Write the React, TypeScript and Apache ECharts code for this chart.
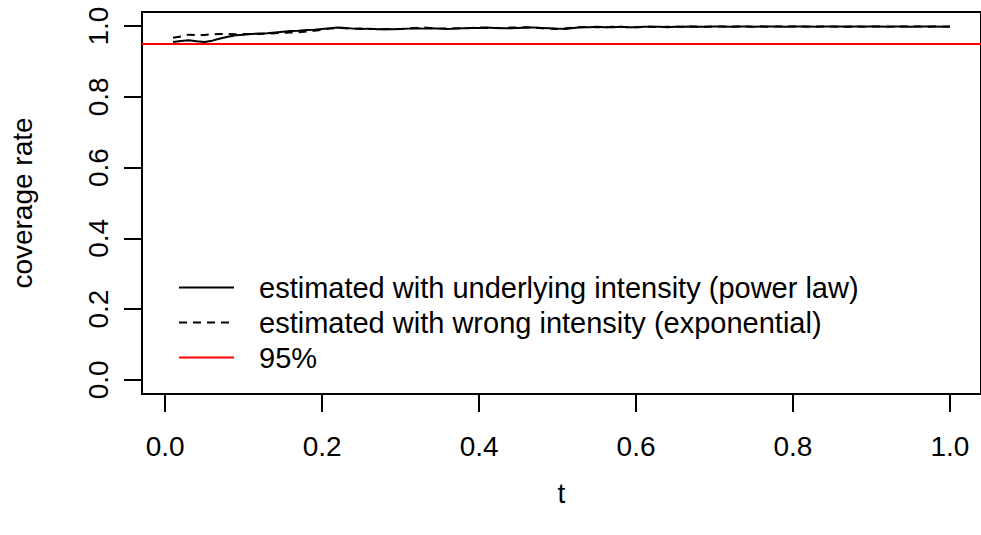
import React, { useEffect, useRef } from "react";
import * as echarts from "echarts";

const tValues: number[] = Array.from({ length: 100 }, (_, i) => +((i + 1) / 100).toFixed(2));

const powerLaw: number[] = [
  0.955, 0.958, 0.960, 0.957, 0.955, 0.959, 0.965, 0.970, 0.974, 0.976,
  0.978, 0.979, 0.980, 0.982, 0.984, 0.986, 0.987, 0.989, 0.990, 0.992,
  0.994, 0.996, 0.995, 0.993, 0.992, 0.993, 0.991, 0.992, 0.991, 0.992,
  0.993, 0.994, 0.993, 0.994, 0.993, 0.992, 0.993, 0.994, 0.995, 0.995,
  0.996, 0.995, 0.994, 0.994, 0.995, 0.996, 0.996, 0.995, 0.994, 0.993,
  0.992, 0.995, 0.997, 0.997, 0.998, 0.997, 0.997, 0.998, 0.997, 0.997,
  0.998, 0.998, 0.998, 0.997, 0.998, 0.998, 0.999, 0.998, 0.998, 0.999,
  0.999, 0.998, 0.999, 0.999, 0.998, 0.999, 0.999, 0.999, 0.998, 0.999,
  0.999, 0.999, 0.998, 0.999, 0.999, 0.999, 0.998, 0.999, 0.999, 0.999,
  0.999, 0.998, 0.999, 0.999, 0.998, 0.999, 0.999, 0.999, 0.998, 0.998,
];

const exponential: number[] = [
  0.967, 0.971, 0.976, 0.975, 0.975, 0.977, 0.978, 0.978, 0.977, 0.978,
  0.978, 0.978, 0.979, 0.980, 0.981, 0.982, 0.983, 0.985, 0.987, 0.990,
  0.993, 0.995, 0.994, 0.993, 0.993, 0.992, 0.992, 0.991, 0.992, 0.992,
  0.994, 0.995, 0.996, 0.994, 0.993, 0.993, 0.994, 0.994, 0.995, 0.996,
  0.995, 0.995, 0.995, 0.996, 0.996, 0.997, 0.996, 0.994, 0.993, 0.992,
  0.994, 0.996, 0.997, 0.998, 0.997, 0.997, 0.998, 0.998, 0.997, 0.997,
  0.998, 0.998, 0.997, 0.998, 0.998, 0.998, 0.999, 0.998, 0.998, 0.999,
  0.999, 0.998, 0.999, 0.999, 0.998, 0.999, 0.998, 0.999, 0.999, 0.999,
  0.999, 0.998, 0.999, 0.999, 0.999, 0.998, 0.999, 0.999, 0.998, 0.999,
  0.999, 0.999, 0.998, 0.999, 0.999, 0.999, 0.998, 0.999, 0.999, 0.999,
];

const referenceLevel = 0.95;
const xTicks: number[] = [0, 0.2, 0.4, 0.6, 0.8, 1.0];
const yTicks: number[] = [0, 0.2, 0.4, 0.6, 0.8, 1.0];
const seriesNames: string[] = [
  "estimated with underlying intensity (power law)",
  "estimated with wrong intensity (exponential)",
  "95%",
];

const FONT = "'Liberation Sans', Arial, Helvetica, sans-serif";

export default function App() {
  const ref = useRef<HTMLDivElement>(null);
  useEffect(() => {
    document.body.style.margin = "0";
    if (!ref.current) return;
    const chart = echarts.init(ref.current, null, { renderer: "svg" });
    // R pads the data range [0.01, 1] by 4% on each side
    const xRange = 1.0 - 0.01;
    const xLo = 0.01 - 0.04 * xRange;
    const xHi = 1.0 + 0.04 * xRange;
    chart.setOption({
      animation: false,
      backgroundColor: "#ffffff",
      textStyle: { fontFamily: FONT },
      grid: {
        left: 142,
        top: 12,
        width: 840,
        height: 382,
        show: true,
        borderColor: "#000",
        borderWidth: 2,
        backgroundColor: "transparent",
      },
      legend: {
        orient: "vertical",
        left: 173,
        top: 268,
        itemWidth: 55,
        itemHeight: 14,
        itemGap: 6,
        data: seriesNames,
        itemStyle: { opacity: 0 },
        textStyle: {
          fontSize: 29,
          lineHeight: 29,
          color: "#000",
          fontFamily: FONT,
          padding: [0, 0, 0, 20],
        },
        selectedMode: false,
      },
      xAxis: {
        type: "value",
        min: xLo,
        max: xHi,
        name: "t",
        nameLocation: "middle",
        nameGap: 85,
        nameTextStyle: { fontSize: 28, color: "#000", fontFamily: FONT },
        axisLine: { show: false, onZero: false },
        splitLine: { show: false },
        axisTick: {
          show: true,
          inside: false,
          customValues: xTicks,
          length: 18,
          lineStyle: { color: "#000", width: 2 },
        },
        axisLabel: {
          customValues: xTicks,
          formatter: (v: number) => v.toFixed(1),
          fontSize: 28,
          color: "#000",
          margin: 38,
          fontFamily: FONT,
        },
      },
      yAxis: {
        type: "value",
        min: -0.04,
        max: 1.04,
        name: "coverage rate",
        nameLocation: "middle",
        nameGap: 106,
        nameTextStyle: { fontSize: 28, color: "#000", fontFamily: FONT },
        axisLine: { show: false, onZero: false },
        splitLine: { show: false },
        axisTick: {
          show: true,
          inside: false,
          customValues: yTicks,
          length: 18,
          lineStyle: { color: "#000", width: 2 },
        },
        axisLabel: {
          customValues: yTicks,
          formatter: (v: number) => v.toFixed(1),
          rotate: 90,
          fontSize: 28,
          color: "#000",
          margin: 30,
          fontFamily: FONT,
        },
      },
      series: [
        {
          name: seriesNames[0],
          type: "line",
          data: tValues.map((t, i) => [t, powerLaw[i]]),
          symbol: "none",
          color: "#000",
          lineStyle: { color: "#000", width: 2, type: "solid" },
        },
        {
          name: seriesNames[1],
          type: "line",
          data: tValues.map((t, i) => [t, exponential[i]]),
          symbol: "none",
          color: "#000",
          lineStyle: { color: "#000", width: 2, type: [8, 6] },
        },
        {
          name: seriesNames[2],
          type: "line",
          data: [],
          symbol: "none",
          color: "#ff0000",
          lineStyle: { color: "#ff0000", width: 2 },
          markLine: {
            symbol: "none",
            silent: true,
            label: { show: false },
            lineStyle: { color: "#ff0000", width: 2, type: "solid" },
            data: [{ yAxis: referenceLevel }],
          },
        },
      ],
    });
    return () => chart.dispose();
  }, []);
  return <div ref={ref} style={{ width: 981, height: 535 }} />;
}
